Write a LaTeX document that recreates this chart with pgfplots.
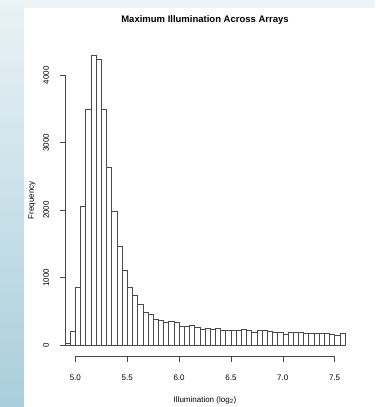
\documentclass[border=0pt]{standalone}
\usepackage{fontspec}
\setmainfont{Liberation Sans}
\usepackage{pgfplots}
\pgfplotsset{compat=1.18}
\definecolor{band}{HTML}{EEF3F6}
\definecolor{striptop}{HTML}{E9F2F6}
\definecolor{stripbot}{HTML}{A9CEDB}
\definecolor{edge}{HTML}{4A4A4A}
\begin{document}
\begin{tikzpicture}
\useasboundingbox (0,0) rectangle (375pt,407pt);
\fill[band] (0,0) rectangle (375pt,407pt);
\shade[bottom color=stripbot, top color=striptop] (0,0) rectangle (24pt,407pt);
\fill[white] (24pt,0) rectangle (375pt,399pt);
\begin{axis}[
  at={(65pt,50.4pt)}, anchor=south west,
  scale only axis, width=280pt, height=312.6pt,
  xmin=4.90, xmax=7.60, ymin=-171.6, ymax=4461.6,
  axis x line*=bottom, axis y line*=left,
  axis line style={draw=none},
  tick align=outside,
  major tick length=5pt,
  tick style={edge, line width=0.5pt},
  xtick={5,5.5,6,6.5,7,7.5},
  xticklabels={5.0,5.5,6.0,6.5,7.0,7.5},
  ytick={0,1000,2000,3000,4000},
  yticklabels={0,1000,2000,3000,4000},
  ticklabel style={font=\fontsize{8}{9}\selectfont, inner sep=0pt},
  xticklabel style={anchor=north},
  yticklabel style={xshift=-14pt, rotate=90, anchor=center},
  xticklabel shift=13pt,
  yticklabel shift=0pt,
  xlabel={Illumination (log\textsubscript{2})},
  xlabel style={at={(axis description cs:0.5,-0.1388)}, anchor=center, font=\fontsize{8}{9}\selectfont},
  ylabel={Frequency},
  ylabel style={at={(axis description cs:-0.1179,0.5)}, anchor=center, font=\fontsize{8}{9}\selectfont},
  title={Maximum Illumination Across Arrays},
  title style={at={(axis description cs:0.5,1.0570)}, anchor=center, font=\bfseries\fontsize{9.5}{11}\selectfont},
  clip=false,
]
\addplot[ybar interval, draw=edge, fill=white, line width=0.5pt] coordinates {
(4.90,25) (4.95,200) (5.00,860) (5.05,2055) (5.10,3490) (5.15,4290)
(5.20,4240) (5.25,3490) (5.30,2640) (5.35,1985) (5.40,1470) (5.45,1115)
(5.50,860) (5.55,735) (5.60,605) (5.65,485) (5.70,450) (5.75,380)
(5.80,360) (5.85,336) (5.90,350) (5.95,336) (6.00,275) (6.05,275)
(6.10,288) (6.15,262) (6.20,237) (6.25,255) (6.30,232) (6.35,245)
(6.40,222) (6.45,222) (6.50,215) (6.55,215) (6.60,232) (6.65,222)
(6.70,193) (6.75,212) (6.80,212) (6.85,198) (6.90,193) (6.95,183)
(7.00,160) (7.05,183) (7.10,183) (7.15,183) (7.20,178) (7.25,178)
(7.30,178) (7.35,173) (7.40,170) (7.45,153) (7.50,148) (7.55,173)
(7.60,0)
};
\draw[edge, line width=0.5pt] (axis cs:5,-171.6) -- (axis cs:7.5,-171.6);
\draw[edge, line width=0.5pt] (axis cs:4.9,0) -- (axis cs:4.9,4000);
\end{axis}
\end{tikzpicture}
\end{document}
